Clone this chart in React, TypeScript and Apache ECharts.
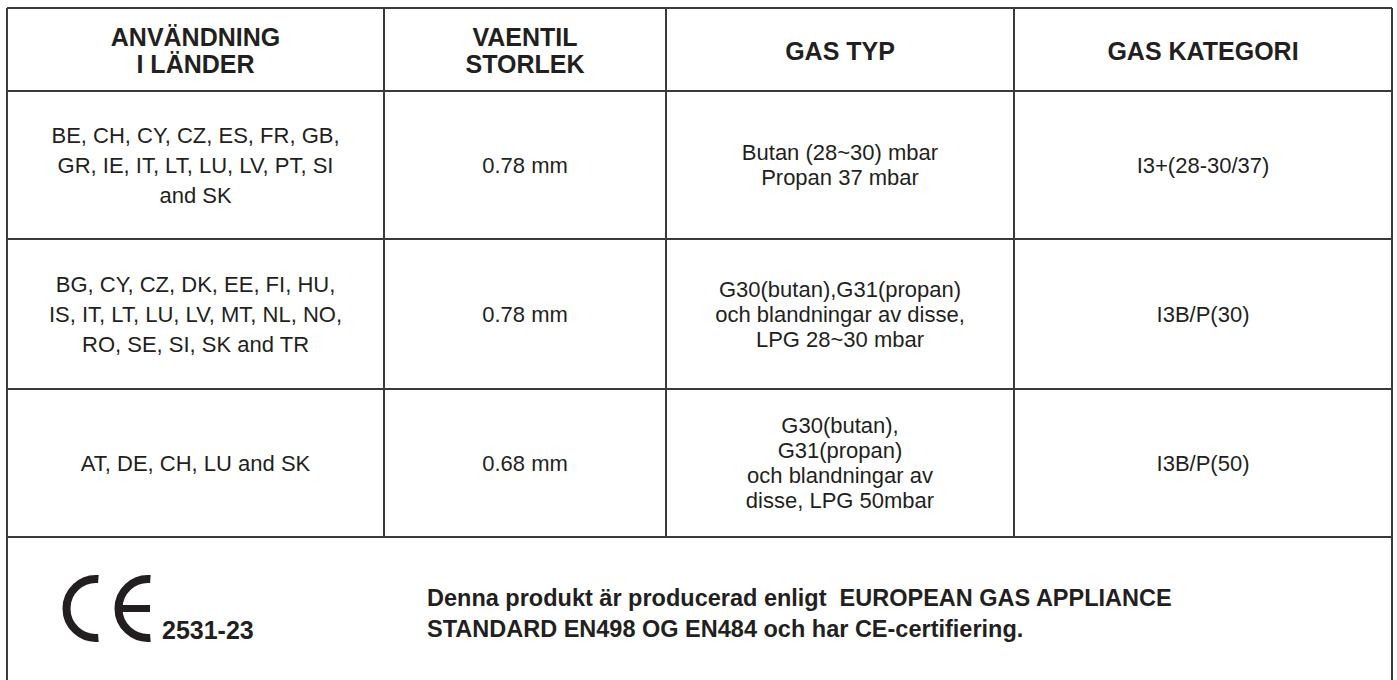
import React, { useEffect, useRef } from "react";
import * as echarts from "echarts";

// ---- data ----
const headers = ["ANVÄNDNING\nI LÄNDER", "VAENTIL\nSTORLEK", "GAS TYP", "GAS KATEGORI"];
const countries = [
  "BE, CH, CY, CZ, ES, FR, GB,\nGR, IE, IT, LT, LU, LV, PT, SI\nand SK",
  "BG, CY, CZ, DK, EE, FI, HU,\nIS, IT, LT, LU, LV, MT, NL, NO,\nRO, SE, SI, SK and TR",
  "AT, DE, CH, LU and SK",
];
const valveSizes = ["0.78 mm", "0.78 mm", "0.68 mm"];
const gasTypes = [
  "Butan (28~30) mbar\nPropan 37 mbar",
  "G30(butan),G31(propan)\noch blandningar av disse,\nLPG 28~30 mbar",
  "G30(butan),\nG31(propan)\noch blandningar av\ndisse, LPG 50mbar",
];
const gasCategories = ["I3+(28-30/37)", "I3B/P(30)", "I3B/P(50)"];
const ceNumber = "2531-23";
const footerLines = [
  "Denna produkt är producerad enligt  EUROPEAN GAS APPLIANCE",
  "STANDARD EN498 OG EN484 och har CE-certifiering.",
];

// ---- layout ----
const colX = [7, 384, 666, 1014, 1392];
const rowY = [8, 91, 239, 389, 537, 700];
const LINE = "#3a3a3a";
const TXT = "#231f20";
const FONT = "'Liberation Sans', Arial, Helvetica, sans-serif";

export default function App() {
  const ref = useRef<HTMLDivElement>(null);
  useEffect(() => {
    if (!ref.current) return;
    const chart = echarts.init(ref.current, null, { renderer: "svg" });
    const els: any[] = [];
    colX.forEach((x) =>
      els.push({ type: "line", shape: { x1: x, y1: rowY[0], x2: x, y2: x === colX[0] || x === colX[4] ? rowY[5] : rowY[4] }, style: { stroke: LINE, lineWidth: 2 } })
    );
    rowY.slice(0, 5).forEach((y) =>
      els.push({ type: "line", shape: { x1: colX[0], y1: y, x2: colX[4], y2: y }, style: { stroke: LINE, lineWidth: 2 } })
    );
    const cx = (i: number) => (colX[i] + colX[i + 1]) / 2;
    const cy = (r: number) => (rowY[r] + rowY[r + 1]) / 2;
    const txt = (text: string, x: number, y: number, size: number, bold: boolean, lh: number, align = "center") => ({
      type: "text",
      x,
      y,
      style: {
        text,
        fill: TXT,
        fontSize: size,
        fontWeight: bold ? "bold" : "normal",
        fontFamily: FONT,
        lineHeight: lh,
        align,
        verticalAlign: "middle",
      },
    });
    headers.forEach((h, i) => els.push(txt(h, cx(i), cy(0) + 1, 25, true, 27)));
    for (let r = 0; r < 3; r++) {
      els.push(txt(countries[r], cx(0), cy(r + 1), 22, false, 30));
      els.push(txt(valveSizes[r], cx(1), cy(r + 1), 22, false, 30));
      els.push(txt(gasTypes[r], cx(2), cy(r + 1), 22, false, 25));
      els.push(txt(gasCategories[r], cx(3), cy(r + 1), 22, false, 30));
    }
    // CE mark
    const ceCy = 608.5;
    [96, 148].forEach((x, k) => {
      els.push({
        type: "arc",
        shape: { cx: x, cy: ceCy, r: 29.5, startAngle: Math.PI / 2 - 0.08, endAngle: (3 * Math.PI) / 2 + 0.08, clockwise: true },
        style: { stroke: TXT, lineWidth: 8, fill: "none" },
      });
      if (k === 1) {
        els.push({ type: "rect", shape: { x: x - 30, y: ceCy - 3.5, width: 32, height: 7 }, style: { fill: TXT } });
      }
    });
    els.push(txt(ceNumber, 162, 630, 25, true, 30, "left"));
    els.push(txt(footerLines.join("\n"), 427, 613, 23.5, true, 31, "left"));

    chart.setOption({ animation: false, graphic: { elements: els } });
    return () => chart.dispose();
  }, []);
  return <div ref={ref} style={{ position: "fixed", left: 0, top: 0, width: 1397, height: 680, background: "#fff" }} />;
}
